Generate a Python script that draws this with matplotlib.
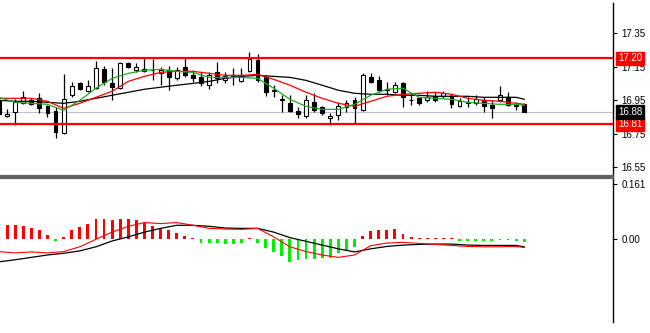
import matplotlib
matplotlib.use('Agg')
import matplotlib.pyplot as plt
from matplotlib.patches import Rectangle

# ---------------- data ----------------
opens = [16.95, 16.855, 16.88, 16.932, 16.95, 16.962, 16.914, 16.884, 16.753, 16.98,
         17.051, 17.004, 17.022, 17.135, 17.051, 17.022, 17.171, 17.129, 17.135, 17.13,
         17.111, 17.129, 17.081, 17.147, 17.099, 17.087, 17.04, 17.117, 17.069, 17.093,
         17.063, 17.123, 17.189, 17.087, 17.004, 16.95, 16.932, 16.884, 16.854, 16.938,
         16.908, 16.843, 16.86, 16.908, 16.95, 16.89, 17.087, 17.069, 17.01, 16.998,
         17.051, 16.95, 16.962, 16.95, 16.974, 16.974, 16.974, 16.914, 16.935, 16.932,
         16.95, 16.92, 16.95, 16.968, 16.917, 16.926]
highs = [16.97, 16.90, 16.96, 17.004, 16.962, 16.992, 16.92, 16.908, 17.105, 17.057,
         17.057, 17.069, 17.183, 17.153, 17.141, 17.177, 17.177, 17.171, 17.20, 17.195,
         17.147, 17.153, 17.147, 17.20, 17.129, 17.117, 17.117, 17.177, 17.117, 17.141,
         17.141, 17.237, 17.225, 17.099, 17.04, 16.98, 16.98, 16.908, 16.98, 16.992,
         16.914, 16.872, 16.938, 16.95, 16.968, 17.111, 17.111, 17.093, 17.057, 17.057,
         17.057, 16.992, 16.968, 17.004, 16.998, 17.004, 16.986, 16.962, 16.968, 16.98,
         16.968, 16.95, 17.034, 16.998, 16.938, 16.932]
lows = [16.85, 16.85, 16.80, 16.926, 16.92, 16.872, 16.848, 16.723, 16.75, 16.968,
        17.01, 16.998, 17.016, 17.04, 16.95, 17.016, 17.14, 17.117, 17.117, 17.069,
        17.04, 17.01, 17.069, 17.087, 17.057, 17.034, 17.016, 17.051, 17.051, 17.04,
        17.057, 17.117, 17.057, 16.974, 16.968, 16.878, 16.878, 16.843, 16.843, 16.878,
        16.86, 16.801, 16.831, 16.878, 16.813, 16.884, 17.051, 16.998, 16.98, 16.992,
        16.908, 16.92, 16.92, 16.938, 16.938, 16.962, 16.902, 16.908, 16.908, 16.92,
        16.878, 16.843, 16.938, 16.914, 16.89, 16.878]
closes = [16.87, 16.87, 16.94, 16.968, 16.926, 16.902, 16.872, 16.759, 16.956, 17.034,
          17.016, 17.034, 17.141, 17.057, 17.028, 17.171, 17.147, 17.147, 17.123, 17.133,
          17.129, 17.087, 17.129, 17.099, 17.081, 17.051, 17.099, 17.081, 17.093, 17.099,
          17.099, 17.195, 17.069, 16.998, 17.01, 16.956, 16.884, 16.866, 16.95, 16.89,
          16.872, 16.854, 16.914, 16.932, 16.902, 17.099, 17.057, 17.01, 17.02, 17.04,
          16.968, 16.953, 16.932, 16.968, 16.95, 16.992, 16.926, 16.944, 16.938, 16.956,
          16.914, 16.902, 16.98, 16.92, 16.92, 16.878]

line_idx = [0, 2, 4, 6, 8, 10, 12, 14, 16, 18, 20, 22, 24, 26, 28, 30, 32, 34, 36, 38,
            40, 42, 44, 46, 48, 50, 52, 54, 56, 58, 60, 62, 64, 65]
ma_fast = [16.968, 16.938, 16.932, 16.926, 16.890, 16.950, 17.022, 17.081, 17.111, 17.129,
           17.135, 17.123, 17.117, 17.087, 17.087, 17.087, 17.081, 17.022, 16.956, 16.914,
           16.896, 16.896, 16.926, 16.980, 17.016, 17.022, 16.968, 16.962, 16.956, 16.938,
           16.932, 16.926, 16.926, 16.920]
ma_mid = [16.962, 16.962, 16.962, 16.944, 16.902, 16.932, 16.968, 17.004, 17.063, 17.093,
          17.117, 17.123, 17.123, 17.111, 17.099, 17.099, 17.105, 17.075, 17.040, 16.998,
          16.962, 16.932, 16.914, 16.944, 16.974, 16.986, 16.992, 16.998, 16.986, 16.962,
          16.950, 16.944, 16.932, 16.926]
ma_slow = [16.950, 16.944, 16.944, 16.938, 16.932, 16.944, 16.962, 16.980, 16.998, 17.016,
           17.028, 17.040, 17.051, 17.063, 17.081, 17.093, 17.099, 17.093, 17.087, 17.069,
           17.040, 17.010, 16.992, 16.986, 16.986, 16.980, 16.980, 16.974, 16.974, 16.974,
           16.968, 16.968, 16.968, 16.956]

hist = [0.058, 0.040, 0.040, 0.038, 0.032, 0.025, 0.012, -0.006, 0.006, 0.025,
        0.035, 0.043, 0.059, 0.058, 0.055, 0.058, 0.058, 0.055, 0.047, 0.038,
        0.032, 0.025, 0.017, 0.009, 0.003, -0.012, -0.012, -0.012, -0.015, -0.015,
        -0.012, 0.003, -0.012, -0.026, -0.038, -0.050, -0.067, -0.061, -0.058, -0.058,
        -0.057, -0.056, -0.041, -0.035, -0.023, 0.009, 0.023, 0.025, 0.025, 0.028,
        0.015, 0.007, 0.003, 0.003, 0.003, 0.003, 0.003, -0.007, -0.007, -0.007,
        -0.007, -0.007, -0.003, -0.003, -0.007, -0.010]
macd_main = [-0.067, -0.061, -0.054, -0.047, -0.042, -0.035, -0.023, -0.006, 0.006, 0.020,
             0.031, 0.040, 0.040, 0.037, 0.032, 0.031, 0.031, 0.020, 0.004, -0.007,
             -0.018, -0.029, -0.038, -0.029, -0.022, -0.018, -0.016, -0.015, -0.015, -0.018,
             -0.019, -0.019, -0.019, -0.023]
macd_signal = [-0.037, -0.041, -0.038, -0.041, -0.037, -0.023, -0.001, 0.020, 0.037, 0.048,
               0.045, 0.048, 0.040, 0.031, 0.029, 0.028, 0.031, 0.006, -0.023, -0.037,
               -0.047, -0.054, -0.047, -0.020, -0.012, -0.010, -0.013, -0.016, -0.019, -0.022,
               -0.023, -0.023, -0.022, -0.025]

price_ticks = [16.55, 16.75, 16.95, 17.15, 17.35]
resistance = 17.20
support = 16.81
last_price = 16.88
macd_ticks = [0.0, 0.161]
macd_tick_labels = ['0.00', '0.161']

# ---------------- figure ----------------
plt.rcParams['font.family'] = ['Liberation Sans', 'DejaVu Sans']
W, H = 650, 333
fig = plt.figure(figsize=(W / 100, H / 100), dpi=100)
fig.patch.set_facecolor('white')

axr = 613 / W
ax1 = fig.add_axes([0, (H - 176) / H, axr, 176 / H])
ax2 = fig.add_axes([0, 0, axr, 155 / H])

xlim = (0.124, 75.99)

# price panel
for i in range(len(opens)):
    o, h, l, c = opens[i], highs[i], lows[i], closes[i]
    ax1.vlines(i, l, h, color='black', lw=0.9, zorder=3)
    bottom = min(o, c)
    height = max(abs(c - o), 0.0008)
    face = 'black' if c < o else 'white'
    ax1.add_patch(Rectangle((i - 0.24, bottom), 0.48, height, facecolor=face,
                            edgecolor='black', lw=0.8, zorder=4))

ax1.plot(line_idx, ma_slow, color='black', lw=0.9, zorder=5)
ax1.plot(line_idx, ma_mid, color='#ff0000', lw=0.9, zorder=5)
ax1.plot(line_idx, ma_fast, color='#1faa1f', lw=0.9, zorder=5)

ax1.axhline(last_price, color='#c0c0c0', lw=0.8, zorder=1)
ax1.axhline(resistance, color='#ff0000', lw=1.6, zorder=6)
ax1.axhline(support, color='#ff0000', lw=1.6, zorder=6)

ax1.set_xlim(*xlim)
ax1.set_ylim(16.498, 17.549)
ax1.set_xticks([])
ax1.yaxis.tick_right()
ax1.set_yticks(price_ticks)
ax1.set_yticklabels([f'{v:.2f}' for v in price_ticks])
ax1.tick_params(axis='y', direction='out', length=3, width=0.8, pad=3, labelsize=7,
                colors='black')
for s in ['left', 'top']:
    ax1.spines[s].set_visible(False)
ax1.spines['right'].set_color('black')
ax1.spines['right'].set_linewidth(1.0)
ax1.spines['right'].set_bounds(16.498, 17.53)
ax1.spines['bottom'].set_color('#606060')
ax1.spines['bottom'].set_linewidth(1.6)

def price_tag(ax, y, text, bg):
    ax.annotate(text, xy=(1.0, y), xycoords=('axes fraction', 'data'),
                xytext=(3.5, 0), textcoords='offset points', ha='left', va='center',
                fontsize=7, color='white', zorder=10, annotation_clip=False,
                bbox=dict(boxstyle='square,pad=0.18', fc=bg, ec=bg))

price_tag(ax1, resistance, f'{resistance:.2f}', '#ff0000')
price_tag(ax1, support, f'{support:.2f}', '#ff0000')
price_tag(ax1, last_price, f'{last_price:.2f}', 'black')

# MACD panel
hcolors = ['#ff0000' if v > 0 else '#00ee00' for v in hist]
ax2.bar(range(len(hist)), hist, width=0.36, color=hcolors, lw=0, zorder=2)
ax2.plot(line_idx, macd_main, color='black', lw=0.9, zorder=3)
ax2.plot(line_idx, macd_signal, color='#ff0000', lw=0.8, zorder=3)

ax2.set_xlim(*xlim)
ax2.set_ylim(-0.2755, 0.1785)
ax2.set_xticks([])
ax2.yaxis.tick_right()
ax2.set_yticks(macd_ticks)
ax2.set_yticklabels(macd_tick_labels)
ax2.tick_params(axis='y', direction='out', length=3, width=0.8, pad=3, labelsize=7,
                colors='black')
for s in ['left', 'bottom']:
    ax2.spines[s].set_visible(False)
ax2.spines['right'].set_color('black')
ax2.spines['right'].set_linewidth(1.0)
ax2.spines['right'].set_bounds(-0.243, 0.1785)
ax2.spines['top'].set_color('#606060')
ax2.spines['top'].set_linewidth(1.6)

fig.savefig('out.png', dpi=100, facecolor='white')
